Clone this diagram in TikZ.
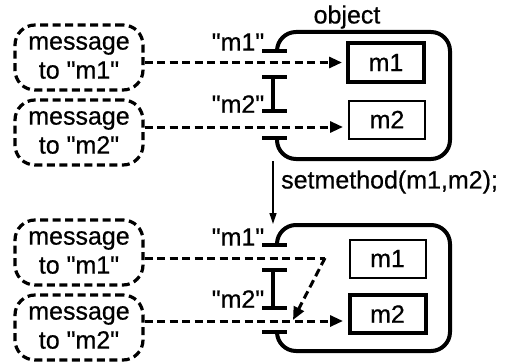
\documentclass[tikz,border=0pt]{standalone}
\usepackage{fontspec}
\newfontfamily\libsans{Liberation Sans}[FakeBold=0.6]
\usetikzlibrary{arrows.meta,calc}
\newcommand{\dq}{\char34\relax}
\begin{document}
\begin{tikzpicture}[x=1pt,y=-1pt,
  every node/.style={font=\libsans\fontsize{25}{29}\selectfont},
  msgbox/.style={draw, line width=3.2pt, dash pattern=on 8pt off 4.5pt, rounded corners=20pt,
    minimum width=128pt, minimum height=65pt, inner sep=0pt, align=center},
  thickbox/.style={draw, line width=4pt, minimum width=76pt, minimum height=38pt, inner sep=0pt},
  thinbox/.style={draw, line width=2pt, minimum width=76pt, minimum height=38pt, inner sep=0pt},
  objline/.style={line width=4pt, rounded corners=19pt},
  bar/.style={line width=4pt},
  msgarrow/.style={line width=3pt, dash pattern=on 8pt off 4.5pt, -{Triangle[length=13pt,width=11pt]}},
  msgline/.style={line width=3pt, dash pattern=on 8pt off 4.5pt},
  lbl/.style={inner sep=0pt}
]
\useasboundingbox (0,0) rectangle (516,361);

% ===== top =====
\node[lbl] (obj) at (347,17) {object};
\draw[objline] (277,51) -- (277,32) -- (450,32) -- (450,159) -- (277,159) -- (277,138);
\draw[bar] (262,51) -- (287,51);
\draw[bar] (262,77) -- (287,77);
\draw[bar] (262,111) -- (287,111);
\draw[bar] (273,77) -- (273,111);
\draw[bar] (262,138) -- (287,138);

\node[thickbox] (m1a) at (386,62.5) {m1};
\node[thinbox] (m2a) at (387,119.5) {m2};
\node[lbl] (q1a) at (238,42) {\dq m1\dq};
\node[lbl] (q2a) at (238,104) {\dq m2\dq};

\node[msgbox] (b1) at (79,57.5) {message\\to \dq m1\dq};
\node[msgbox] (b2) at (79,132.5) {message\\to \dq m2\dq};

\coordinate (e2a) at (343,127);
\draw[msgarrow] (b1.east |- m1a.west) -- ([xshift=-4pt]m1a.west);
\draw[msgarrow] (b2.east |- e2a) -- (e2a);

% ===== middle =====
\coordinate (vs) at (273,161);
\coordinate (ve) at (273,224);
\draw[line width=1.3pt, -{Triangle[length=11pt,width=7pt]}] (vs) -- (ve);
\node[lbl, anchor=west] (sm) at (281,182) {setmethod(m1,m2);};

% ===== bottom =====
\draw[objline] (277,245) -- (277,225) -- (450,225) -- (450,351) -- (277,351) -- (277,332);
\draw[bar] (262,245) -- (287,245);
\draw[bar] (262,270) -- (287,270);
\draw[bar] (262,308) -- (287,308);
\draw[bar] (273,270) -- (273,308);
\draw[bar] (262,332) -- (287,332);

\node[thinbox] (m1b) at (387.5,258.5) {m1};
\node[thickbox] (m2b) at (387.5,314) {m2};
\node[lbl] (q1b) at (238,237) {\dq m1\dq};
\node[lbl] (q2b) at (238,299) {\dq m2\dq};

\node[msgbox] (b3) at (79,252.5) {message\\to \dq m1\dq};
\node[msgbox] (b4) at (79,327.5) {message\\to \dq m2\dq};

\coordinate (k1) at (325,258);
\coordinate (k2) at (293,320);
\coordinate (e4) at (343,321);
\draw[msgline] (b3.east |- k1) -- (k1);
\draw[msgarrow] (k1) -- (k2);
\draw[msgarrow] (b4.east |- e4) -- (e4);
\end{tikzpicture}
\end{document}
